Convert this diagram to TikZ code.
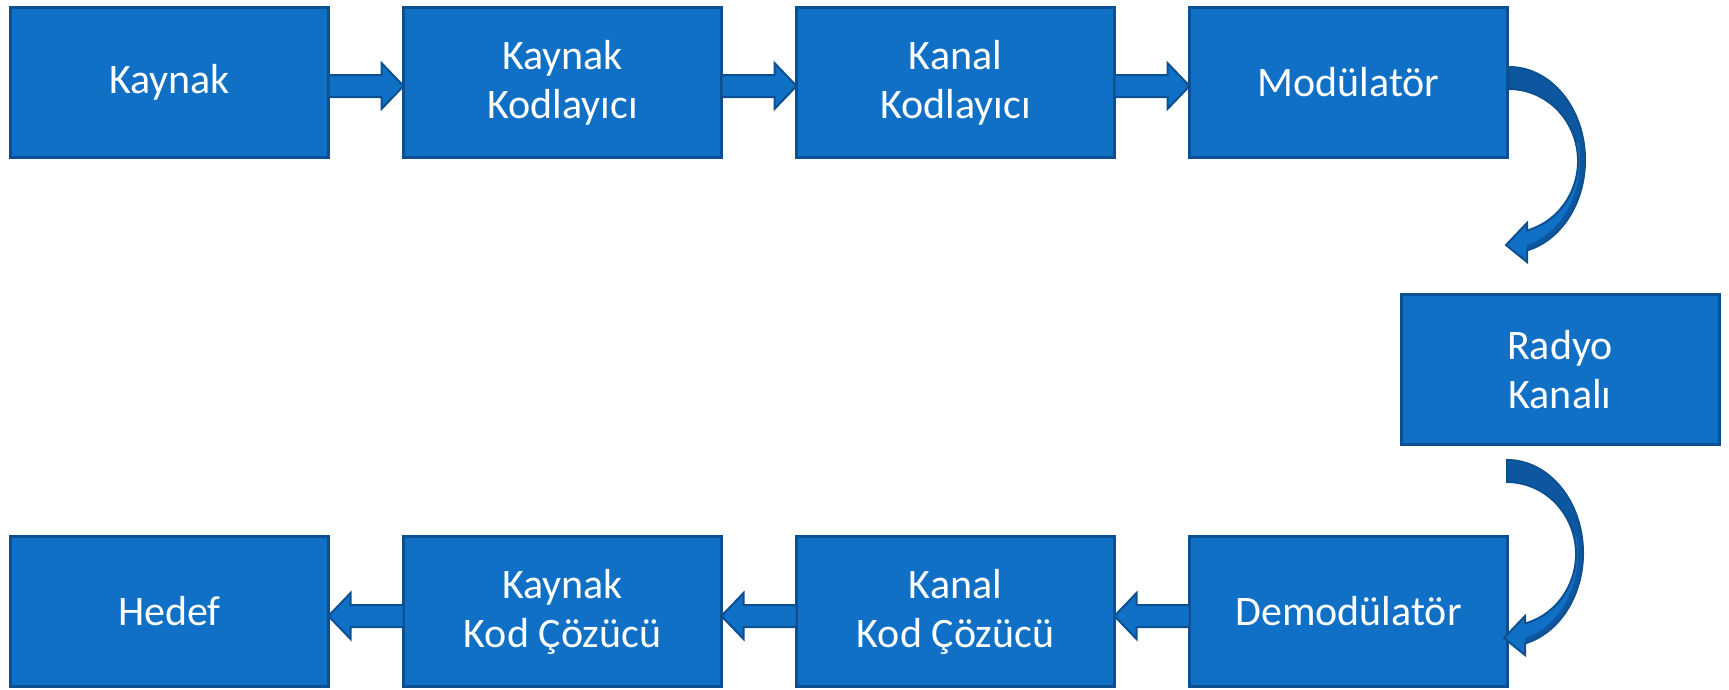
\documentclass[tikz,border=0pt]{standalone}
\usepackage{fontspec}
\setmainfont{Carlito}
\usetikzlibrary{calc}
\definecolor{boxblue}{RGB}{16,112,198}
\definecolor{boxedge}{RGB}{12,80,145}
\definecolor{backblue}{RGB}{13,87,160}
\newcommand\blkR[2]{\draw[barrow] ($(#1.north east)+(0,67.5)$) -- ($(#2.north west)+(-22,67.5)$) -- ($(#2.north west)+(-22,55.5)$) -- ($(#2.north west)+(0,78.5)$) -- ($(#2.north west)+(-22,101.5)$) -- ($(#2.north west)+(-22,89.5)$) -- ($(#1.north east)+(0,89.5)$) -- cycle;}
\newcommand\blkL[2]{\draw[barrow] ($(#1.north west)+(0,68.5)$) -- ($(#2.north east)+(22,68.5)$) -- ($(#2.north east)+(22,56.5)$) -- ($(#2.north east)+(0,79.5)$) -- ($(#2.north east)+(22,102.5)$) -- ($(#2.north east)+(22,90.5)$) -- ($(#1.north west)+(0,90.5)$) -- cycle;}
\begin{document}
\begin{tikzpicture}[x=1pt,y=-1pt,
  blk/.style={draw=boxedge, line width=3pt, fill=boxblue, minimum width=318pt, minimum height=150pt, inner sep=0pt, outer sep=0pt, text=white, font=\fontsize{42}{49}\selectfont, align=center},
  barrow/.style={draw=boxedge, line width=2pt, fill=boxblue, line join=miter},
  curvarrow/.pic={
    \fill[boxblue] (0,0) arc[start angle=-90,end angle=76.3,x radius=76,y radius=93] -- (18,195) -- (-3,178) -- (18,156) -- (18,163.5) arc[start angle=74.9,end angle=-90,x radius=69,y radius=72] -- cycle;
    \fill[backblue] (0,0) arc[start angle=-90,end angle=76.3,x radius=76,y radius=93] -- (18,178.1) arc[start angle=75.3,end angle=-10,x radius=71,y radius=88] -- (64.8,69.4) arc[start angle=-20,end angle=-90,x radius=69,y radius=72] -- cycle;
    \draw[boxedge, line width=2pt, line join=miter] (0,0) arc[start angle=-90,end angle=76.3,x radius=76,y radius=93] -- (18,195) -- (-3,178) -- (18,156) -- (18,163.5) arc[start angle=74.9,end angle=-90,x radius=69,y radius=72] -- cycle;
  }]
\useasboundingbox (0,0) rectangle (1729,689);
\node[blk] (src) at (169.5,82.5) {Kaynak};
\node[blk] (senc) at (562.5,82.5) {Kaynak\\Kodlayıcı};
\node[blk] (cenc) at (955.5,82.5) {Kanal\\Kodlayıcı};
\node[blk] (mod) at (1348.5,82.5) {Modülatör};
\node[blk] (radio) at (1560,369.5) {Radyo\\Kanalı};
\node[blk] (dst) at (169.5,611.5) {Hedef};
\node[blk] (sdec) at (562.5,611.5) {Kaynak\\Kod Çözücü};
\node[blk] (cdec) at (955.5,611.5) {Kanal\\Kod Çözücü};
\node[blk] (dem) at (1348.5,611.5) {Demodülatör};
\blkR{src}{senc}
\blkR{senc}{cenc}
\blkR{cenc}{mod}
\blkL{dem}{cdec}
\blkL{cdec}{sdec}
\blkL{sdec}{dst}
\pic at ($(mod.north east)+(1.5,59.5)$) {curvarrow};
\pic at ($(dem.north east)+(-0.5,-76.5)$) {curvarrow};
\end{tikzpicture}
\end{document}
